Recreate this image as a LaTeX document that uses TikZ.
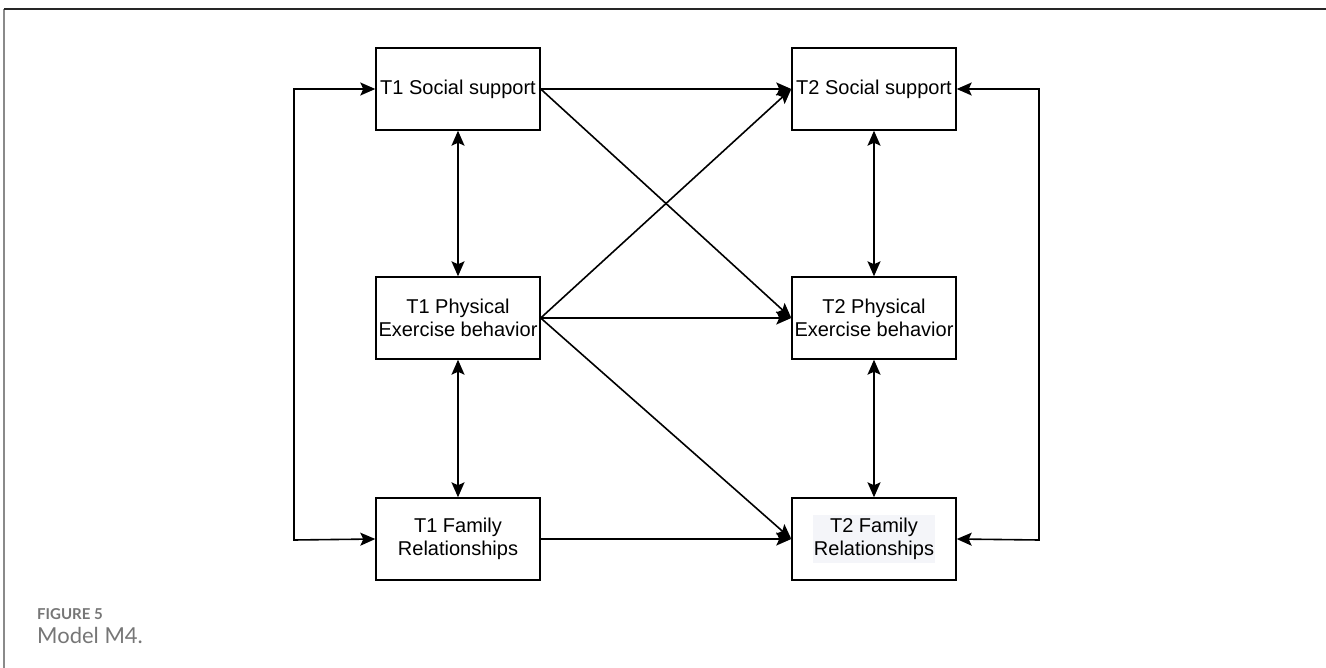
\documentclass[tikz,border=0pt]{standalone}
\usepackage{fontspec}
\setmainfont{Liberation Sans}
\newfontfamily\capfont{Lato}
\usetikzlibrary{arrows.meta}
\definecolor{capgray}{HTML}{767676}
\definecolor{framegray}{HTML}{8A8A8A}
\definecolor{hilite}{HTML}{F4F5F9}
\begin{document}
\begin{tikzpicture}[x=1pt,y=-1pt,
  var/.style={draw, line width=1.4pt, rectangle, minimum width=164pt, minimum height=82pt,
    inner sep=0pt, align=center, font=\fontsize{20}{23}\selectfont},
  link/.style={line width=1.6pt, -{Stealth[length=15pt,width=13pt,inset=3pt]}},
  both/.style={line width=1.6pt, {Stealth[length=15pt,width=13pt,inset=3pt]}-{Stealth[length=15pt,width=13pt,inset=3pt]}}]
  \useasboundingbox (0,0) rectangle (1326,668);
  % frame
  \draw[framegray, line width=1.2pt] (4,9) -- (4,668);
  \draw[black!85, line width=1.3pt] (4,9) -- (1326,9);

  % variables at two waves
  \node[var] (ssA) at (458,89) {T1 Social support};
  \node[var] (peA) at (458,318) {T1 Physical\\Exercise behavior};
  \node[var] (frA) at (458,539) {T1 Family\\Relationships};
  \node[var] (ssB) at (874,89) {T2 Social support};
  \node[var] (peB) at (874,318) {T2 Physical\\Exercise behavior};
  \node[var] (frB) at (874,539) {\setlength{\fboxsep}{1pt}\colorbox{hilite}{\begin{tabular}{@{}c@{}}T2 Family\\Relationships\end{tabular}}};

  % within-wave correlations
  \draw[both] (ssA) -- (peA);
  \draw[both] (peA) -- (frA);
  \draw[both] (ssB) -- (peB);
  \draw[both] (peB) -- (frB);
  \coordinate (lt) at (294,89);
  \coordinate (lb) at (294,540);
  \draw[both] (ssA.west) -- (lt) -- (lb) -- (frA.west);
  \coordinate (rt) at (1039,89);
  \coordinate (rb) at (1039,540);
  \draw[both] (ssB.east) -- (rt) -- (rb) -- (frB.east);

  % cross-lagged paths
  \draw[link] (ssA.east) -- (ssB.west);
  \draw[link] (ssA.east) -- (peB.west);
  \draw[link] (peA.east) -- (ssB.west);
  \draw[link] (peA.east) -- (peB.west);
  \draw[link] (peA.east) -- (frB.west);
  \draw[link] (frA.east) -- (frB.west);

  % caption
  \node[anchor=base west, inner sep=0pt, text=capgray, font=\capfont\bfseries\fontsize{15}{17}\selectfont] (figlab) at (37,619) {FIGURE 5};
  \node[anchor=base west, inner sep=0pt, text=capgray, font=\capfont\fontsize{22}{24}\selectfont] (figcap) at (37,643) {Model M4.};
\end{tikzpicture}
\end{document}
